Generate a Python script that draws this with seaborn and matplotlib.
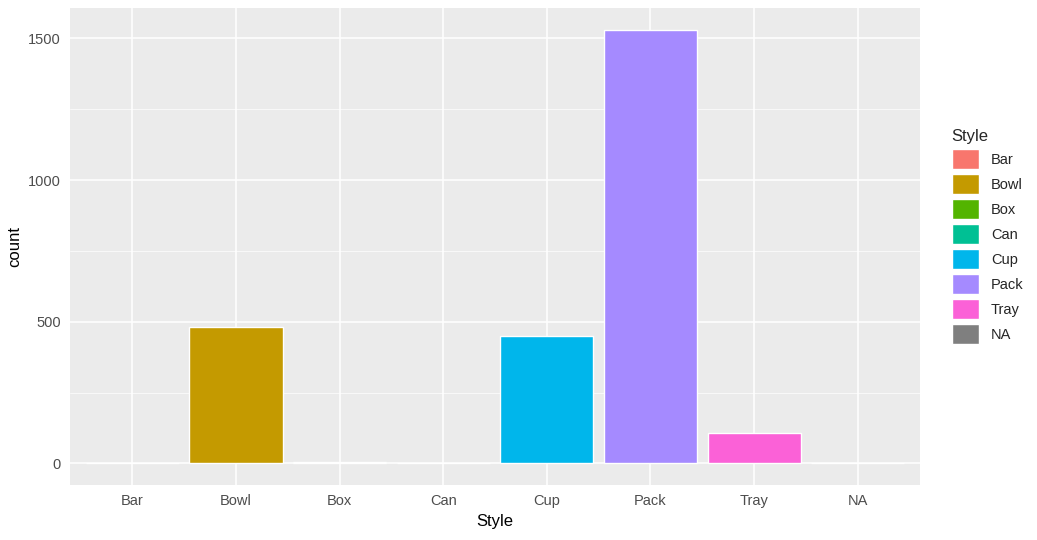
import matplotlib
matplotlib.use("Agg")
import matplotlib.pyplot as plt
import matplotlib.patches as mpatches
import seaborn as sns
import pandas as pd

styles = ["Bar", "Bowl", "Box", "Can", "Cup", "Pack", "Tray", "NA"]
counts = [1, 481, 6, 1, 450, 1531, 108, 2]
colors = ["#F8766D", "#C49A00", "#53B400", "#00C094", "#00B6EB", "#A58AFF", "#FB61D7", "#7F7F7F"]

df = pd.DataFrame({"Style": styles, "count": counts})

sns.set_style("darkgrid", {"axes.facecolor": "#EBEBEB", "grid.color": "white"})
plt.rcParams["font.family"] = ["Liberation Sans", "DejaVu Sans"]

fig = plt.figure(figsize=(10.37, 5.4), dpi=100)
ax = fig.add_axes([70 / 1037, 1 - 485 / 540, 850 / 1037, 477 / 540])
sns.barplot(data=df, x="Style", y="count", hue="Style", palette=colors,
            width=0.9, saturation=1, legend=False, ax=ax)
top = max(counts)
ax.set_ylim(-0.05 * top, 1.05 * top)
ax.set_xlim(-0.6, len(styles) - 0.4)
ax.set_yticks([0, 500, 1000, 1500])
ax.set_yticks([250, 750, 1250], minor=True)
ax.grid(True, which="major", color="white", linewidth=1.1)
ax.grid(True, which="minor", axis="y", color="white", linewidth=0.5)
ax.tick_params(axis="both", which="major", colors="#4D4D4D", labelsize=10.5, length=3, color="#333333")
ax.tick_params(which="minor", length=0)
for s in ax.spines.values():
    s.set_visible(False)
ax.set_xlabel("Style", fontsize=12, color="black")
ax.set_ylabel("count", fontsize=12, color="black")

handles = [mpatches.Patch(facecolor=c, edgecolor="white", label=s) for s, c in zip(styles, colors)]
leg = fig.legend(handles=handles, title="Style", loc="upper left", bbox_to_anchor=(0.905, 0.785),
                 frameon=False, fontsize=10.5, title_fontsize=12, handlelength=1.9, handleheight=1.8,
                 labelspacing=0.3, alignment="left")
fig.savefig("out.png", dpi=100)
